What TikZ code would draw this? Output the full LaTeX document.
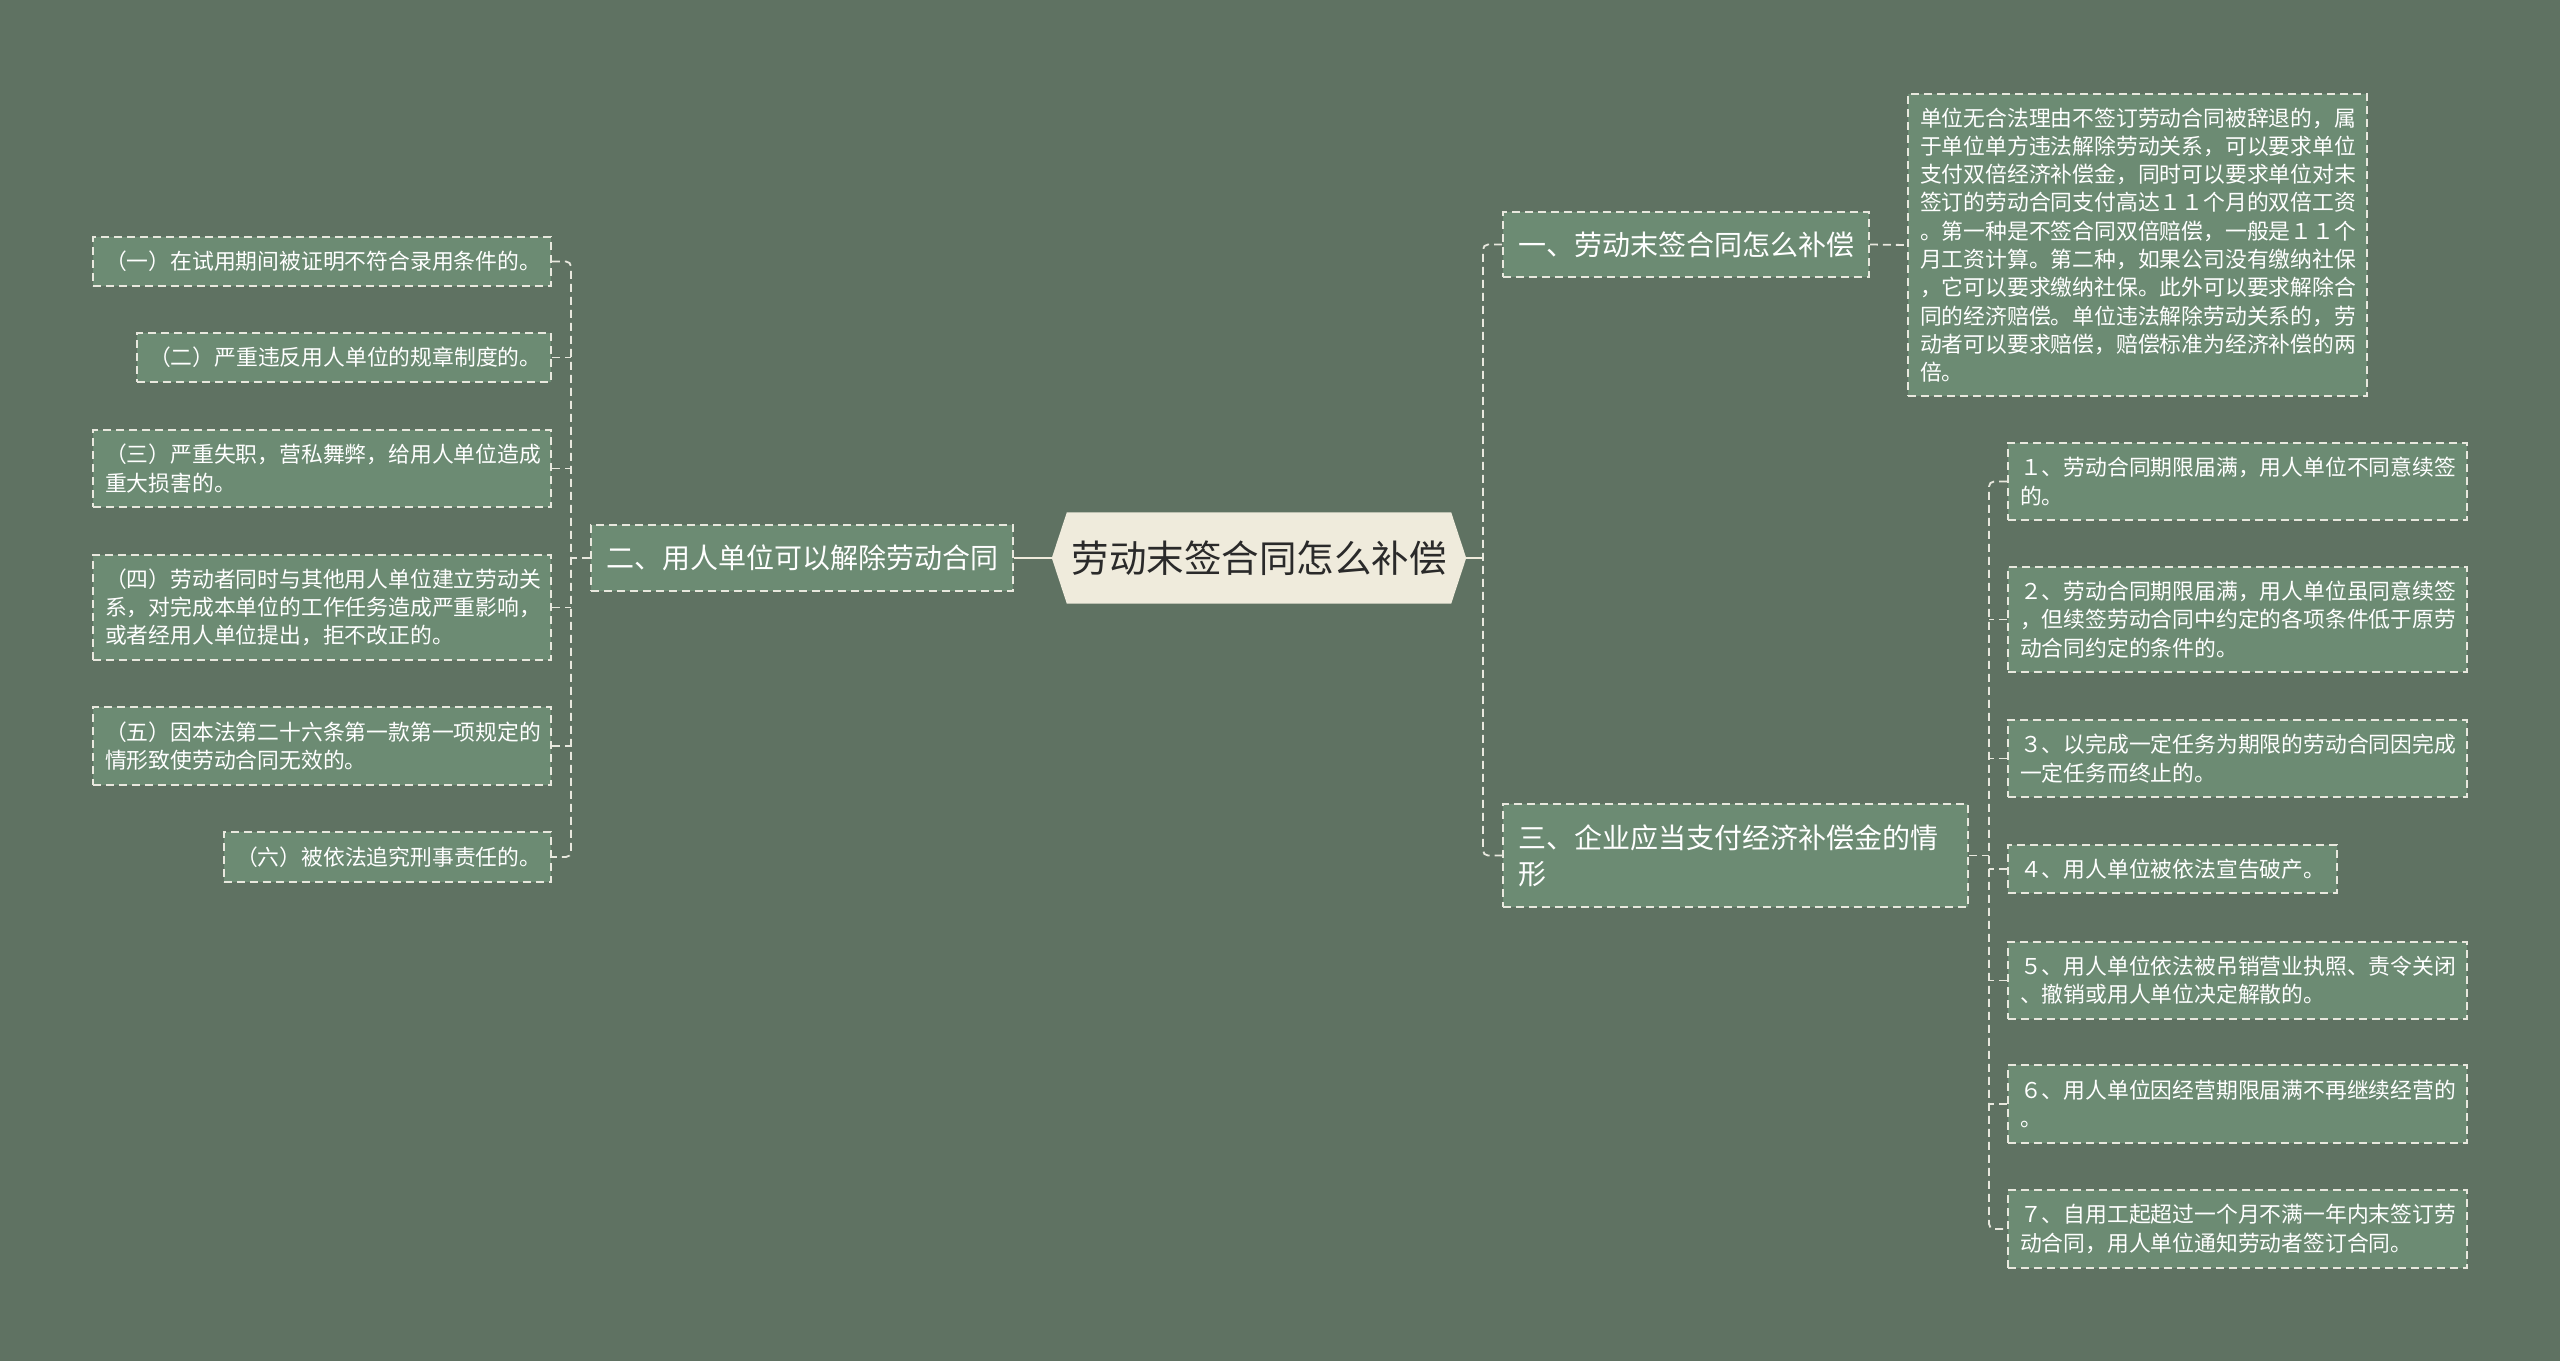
\documentclass[tikz,border=0pt]{standalone}
\usepackage{fontspec}
\setmainfont{Noto Sans CJK SC}
\usetikzlibrary{backgrounds}
\definecolor{bg}{HTML}{5F7262}
\definecolor{nodefill}{HTML}{6C8B73}
\definecolor{edge}{HTML}{E8E8DE}
\definecolor{rootfill}{HTML}{EFEBDC}
\definecolor{roottext}{HTML}{2A2A2A}
\begin{document}
\begin{tikzpicture}[x=1pt,y=-1pt,
  box/.style={draw=edge, line width=1.8pt, dash pattern=on 8pt off 5pt, fill=nodefill, text=white, inner ysep=0pt, align=left},
  leaf/.style={box, inner xsep=12pt, font=\fontsize{21.8}{28.3}\selectfont},
  mid/.style={box, inner xsep=15pt, font=\fontsize{28}{36}\selectfont},
  link/.style={draw=edge, line width=1.8pt, dash pattern=on 8pt off 5pt, rounded corners=5pt},
  rootlink/.style={draw=rootfill, line width=2.5pt}]
\useasboundingbox (0,0) rectangle (2560,1361);

% root
\node[minimum width=414pt, minimum height=91pt, inner sep=0pt, font=\fontsize{37.5}{40}\selectfont, text=roottext] (root) at (1259,558) {劳动末签合同怎么补偿};
\begin{scope}[on background layer]
  \fill[bg] (0,0) rectangle (2560,1361);
  \fill[rootfill] (root.west) -- ([xshift=15pt]root.north west) -- ([xshift=-15pt]root.north east) -- (root.east) -- ([xshift=-15pt]root.south east) -- ([xshift=15pt]root.south west) -- cycle;
\end{scope}

% level 1
\node[mid, minimum width=366pt, minimum height=65pt] (n1) at (1686,244.5) {一、劳动末签合同怎么补偿};
\node[mid, minimum width=422pt, minimum height=66pt] (n2) at (802,558) {二、用人单位可以解除劳动合同};
\node[mid, text width=435pt, minimum height=103pt] (n3) at (1735.5,855.5) {三、企业应当支付经济补偿金的情\\形};

% top right detail
\node[leaf, text width=435pt, minimum height=302pt] (T) at (2137.5,245) {单位无合法理由不签订劳动合同被辞退的，属\\于单位单方违法解除劳动关系，可以要求单位\\支付双倍经济补偿金，同时可以要求单位对末\\签订的劳动合同支付高达１１个月的双倍工资\\。第一种是不签合同双倍赔偿，一般是１１个\\月工资计算。第二种，如果公司没有缴纳社保\\，它可以要求缴纳社保。此外可以要求解除合\\同的经济赔偿。单位违法解除劳动关系的，劳\\动者可以要求赔偿，赔偿标准为经济补偿的两\\倍。};

% left leaves
\node[leaf, text width=434pt, minimum height=49pt] (L1) at (322,261.5) {（一）在试用期间被证明不符合录用条件的。};
\node[leaf, text width=390pt, minimum height=49pt] (L2) at (344,357.5) {（二）严重违反用人单位的规章制度的。};
\node[leaf, text width=434pt, minimum height=77pt] (L3) at (322,468.5) {（三）严重失职，营私舞弊，给用人单位造成\\重大损害的。};
\node[leaf, text width=434pt, minimum height=105pt] (L4) at (322,607.5) {（四）劳动者同时与其他用人单位建立劳动关\\系，对完成本单位的工作任务造成严重影响，\\或者经用人单位提出，拒不改正的。};
\node[leaf, text width=434pt, minimum height=78pt] (L5) at (322,746) {（五）因本法第二十六条第一款第一项规定的\\情形致使劳动合同无效的。};
\node[leaf, text width=303pt, minimum height=50pt] (L6) at (387.5,857) {（六）被依法追究刑事责任的。};

% right leaves
\node[leaf, text width=435pt, minimum height=77pt] (R1) at (2237.5,481.5) {１、劳动合同期限届满，用人单位不同意续签\\的。};
\node[leaf, text width=435pt, minimum height=105pt] (R2) at (2237.5,619.5) {２、劳动合同期限届满，用人单位虽同意续签\\，但续签劳动合同中约定的各项条件低于原劳\\动合同约定的条件的。};
\node[leaf, text width=435pt, minimum height=77pt] (R3) at (2237.5,758.5) {３、以完成一定任务为期限的劳动合同因完成\\一定任务而终止的。};
\node[leaf, text width=305pt, minimum height=48pt] (R4) at (2172.5,869) {４、用人单位被依法宣告破产。};
\node[leaf, text width=435pt, minimum height=77pt] (R5) at (2237.5,980.5) {５、用人单位依法被吊销营业执照、责令关闭\\、撤销或用人单位决定解散的。};
\node[leaf, text width=435pt, minimum height=78pt] (R6) at (2237.5,1104) {６、用人单位因经营期限届满不再继续经营的\\。};
\node[leaf, text width=435pt, minimum height=78pt] (R7) at (2237.5,1229) {７、自用工起超过一个月不满一年内末签订劳\\动合同，用人单位通知劳动者签订合同。};

% trunks
\coordinate (tR) at (1483,558);
\coordinate (tL) at (571,558);
\coordinate (tC) at (1989,855.5);

% root connectors
\draw[rootlink] (root.east) -- (tR);
\draw[rootlink] (root.west) -- (n2.east);
\draw[link] (n1.west) -- (n1.west -| tR) -- (n3.west -| tR) -- (n3.west);

% n1 to detail
\draw[link] (n1.east) -- (T.west);

% left
\draw[link] (n2.west) -- (tL);
\draw[link] (L1.east) -- (L1.east -| tL) -- (L6.east -| tL) -- (L6.east);
\foreach \i in {L2,L3,L4,L5} {\draw[link] (\i.east) -- (\i.east -| tL);}

% right
\draw[link] (n3.east) -- (tC);
\draw[link] (R1.west) -- (R1.west -| tC) -- (R7.west -| tC) -- (R7.west);
\foreach \i in {R2,R3,R4,R5,R6} {\draw[link] (\i.west) -- (\i.west -| tC);}
\end{tikzpicture}
\end{document}
